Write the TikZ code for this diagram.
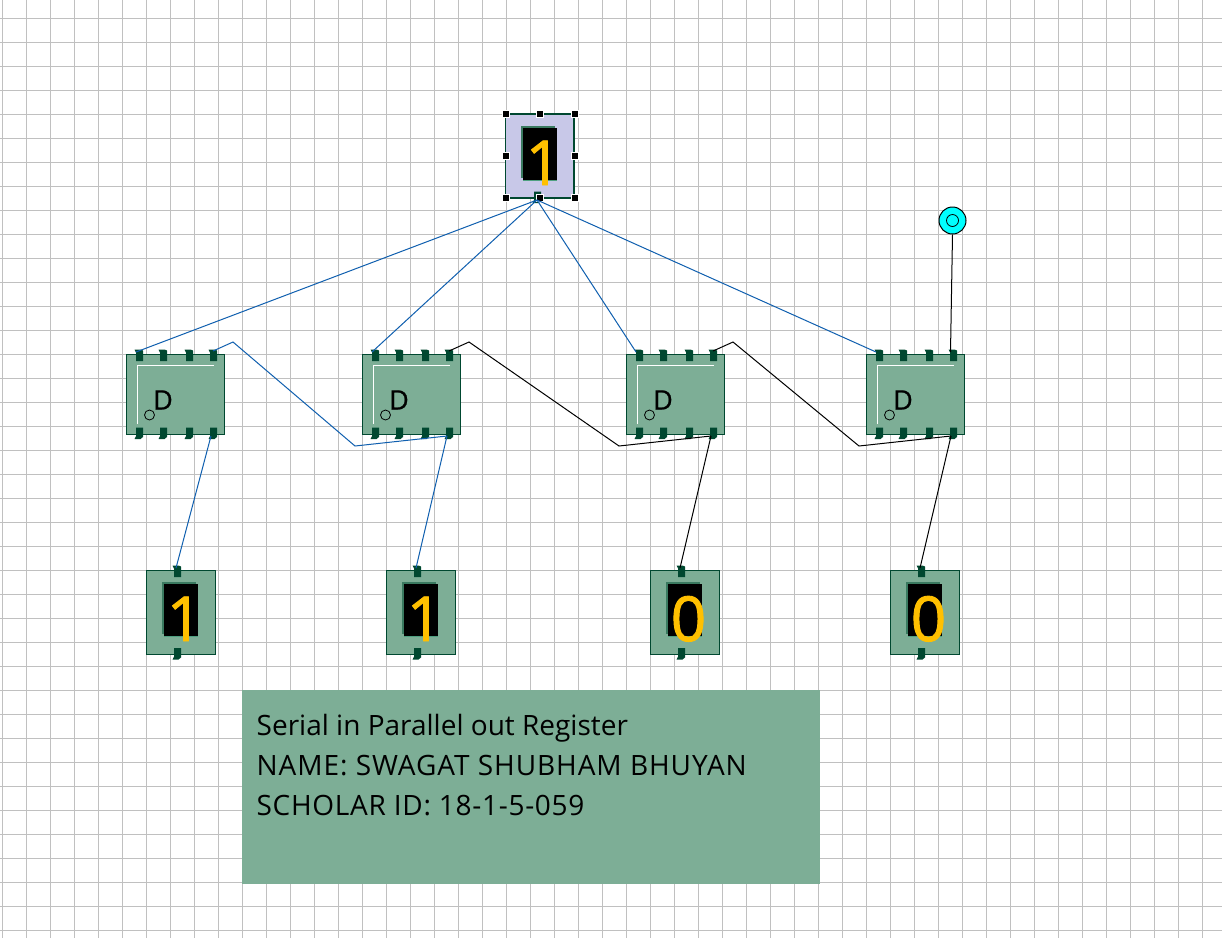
\documentclass[tikz,border=0pt]{standalone}
\usepackage{fontspec}
\setmainfont{Open Sans}
\newfontfamily\digfont[FakeBold=1.5]{Open Sans}
\newfontfamily\dfont[FakeBold=0.8]{Open Sans}
\newfontfamily\capsa[LetterSpace=3.4]{Open Sans}
\newfontfamily\capsb[LetterSpace=2.5]{Open Sans}
\definecolor{gridc}{HTML}{C0C0C0}
\definecolor{body}{HTML}{7DAE96}
\definecolor{pinc}{HTML}{004830}
\definecolor{sel}{HTML}{C8C8E8}
\definecolor{wireb}{HTML}{0F5FAF}
\definecolor{digit}{HTML}{FFC000}
\definecolor{shadA}{HTML}{3A7A60}
\definecolor{shadB}{HTML}{4FA080}
\definecolor{cyanc}{HTML}{00FFFF}
\tikzset{
  x=1pt,y=-1pt,
  chip/.style={draw=pinc,fill=body,line width=1pt,minimum width=97.5pt,minimum height=80pt,inner sep=0pt,outer sep=0pt},
  disp/.style={draw=pinc,fill=body,line width=1pt,minimum width=68.5pt,minimum height=84pt,inner sep=0pt,outer sep=0pt},
  lcdscreen/.style={fill=black,minimum width=34pt,minimum height=52pt,inner sep=0pt,outer sep=0pt},
  pinshape/.style={fill=pinc,draw=none},
  wblue/.style={draw=wireb,line width=1pt},
  wblack/.style={draw=black,line width=1pt},
  hl/.style={fill=black,draw=white,line width=1pt,minimum size=7pt,inner sep=0pt,outer sep=0pt},
  dig/.style={text=digit,font=\digfont\fontsize{62}{62}\selectfont,inner sep=0pt,anchor=base},
  dlabel/.style={font=\dfont\fontsize{27}{27}\selectfont,inner sep=0pt,text=black},
  notecirc/.style={draw=black,line width=.8pt,circle,minimum size=10pt,inner sep=0pt},
  notetext/.style={anchor=base west,inner sep=0pt}
}
\newcommand{\pintop}[2]{\fill[pinshape] (#1-3.5,#2+11.5) -- (#1+3.5,#2+11.5) -- (#1+3.5,#2+1) -- (#1+1,#2) -- (#1-5,#2) -- (#1-3.5,#2+3) -- cycle;}
\newcommand{\pinbot}[2]{\fill[pinshape] (#1-3.5,#2-11.5) -- (#1+3.5,#2-11.5) -- (#1+3.5,#2-2) -- (#1+1,#2) -- (#1-5,#2) -- (#1-3.5,#2-3) -- cycle;}
\newcommand{\dff}[2]{%
  \node[chip,anchor=north west] (#1) at (#2-0.5,354) {};
  \draw[white,line width=1pt] (#2+10.5,424) -- (#2+10.5,365.5) -- (#2+87,365.5);
  \node[notecirc] (#1c) at (#2+22.5,415) {};
  \node[dlabel] (#1d) at (#2+36,400) {D};
  \pintop{#2+12.5}{349.5}\pintop{#2+36.5}{349.5}\pintop{#2+62.5}{349.5}\pintop{#2+86.5}{349.5}
  \pinbot{#2+12.5}{439}\pinbot{#2+36.5}{439}\pinbot{#2+62.5}{439}\pinbot{#2+86.5}{439}
  \coordinate (#1a) at (#2+9,352);
  \coordinate (#1q) at (#2+86,351);
  \coordinate (#1k) at (#2+83.5,352);
  \coordinate (#1i) at (#2+84,436);
}
\newcommand{\lcd}[5]{%
  \node[disp,anchor=north west,#5] (#1) at (#2-0.5,#3) {};
  \fill[shadA] (#2+15,#3+12) rectangle (#2+49,#3+64);
  \fill[shadB] (#2+17,#3+15) rectangle (#2+51,#3+67);
  \node[lcdscreen,anchor=north west] (#1s) at (#2+17,#3+14) {};
  \node[dig] (#1t) at (#2+37.5,#3+71) {#4};
}
\begin{document}
\begin{tikzpicture}
\useasboundingbox (0,0) rectangle (1222,938);
\fill[white] (0,0) rectangle (1222,938);
\foreach \i in {0,...,50} \draw[gridc,line width=1pt] (2.5+24*\i,0) -- (2.5+24*\i,938);
\foreach \j in {0,...,38} \draw[gridc,line width=1pt] (0,18.5+24*\j) -- (1222,18.5+24*\j);

% note
\node[fill=body,anchor=north west,minimum width=578pt,minimum height=193.5pt,inner sep=0pt,outer sep=0pt] (note) at (242,690) {};
\node[notetext,font=\fontsize{28}{40}\selectfont] (l1) at (256.5,735.5) {Serial in Parallel out Register};
\node[notetext,font=\capsa\fontsize{28}{40}\selectfont] (l2) at (256.5,775.5) {NAME: SWAGAT SHUBHAM BHUYAN};
\node[notetext,font=\capsb\fontsize{28}{40}\selectfont] (l3) at (256.5,815.5) {SCHOLAR ID: 18-1-5-059};

% chips
\dff{ffa}{127}
\dff{ffb}{363}
\dff{ffc}{627}
\dff{ffd}{867}

% displays
\lcd{da}{147}{570}{1}{}
\lcd{db}{387}{570}{1}{}
\lcd{dc}{651}{570}{0}{}
\lcd{dd}{891}{570}{0}{}
\foreach \x in {176,416,680,920}{
  \pintop{\x+1.5}{565.5}
  \pinbot{\x+1.5}{659.5}
}
\coordinate (dap) at (176,568);
\coordinate (dbp) at (416,568);
\coordinate (dcp) at (680,568);
\coordinate (ddp) at (920,568);

% input
\lcd{top}{506}{114}{1}{fill=sel,line width=1.5pt}
\pinbot{537.5}{203}
\coordinate (tp) at (537,200);
\foreach \x/\y [count=\k] in {506/114,540/114,575/114,506/156,575/156,506/198,540/198,575/198}
  \node[hl] (h\k) at (\x,\y) {};

% clock
\node[circle,draw=black,fill=cyanc,line width=1pt,minimum size=27pt,inner sep=0pt] (clk) at (952.5,220.5) {};
\node[circle,draw=black,line width=.8pt,minimum size=12pt,inner sep=0pt] (clki) at (952.5,220.5) {};

% bends
\coordinate (b1a) at (233,342); \coordinate (b1b) at (355,446);
\coordinate (b2a) at (469,342); \coordinate (b2b) at (619,446);
\coordinate (b3a) at (733,342); \coordinate (b3b) at (859,446);

% wires
\draw[wblue] (tp) -- (ffaa);
\draw[wblue] (tp) -- (ffba);
\draw[wblue] (tp) -- (ffca);
\draw[wblue] (tp) -- (ffda);
\draw[wblue] (ffaq) -- (b1a) -- (b1b) -- (ffbi);
\draw[wblack] (ffbq) -- (b2a) -- (b2b) -- (ffci);
\draw[wblack] (ffcq) -- (b3a) -- (b3b) -- (ffdi);
\draw[wblue] (ffai) -- (dap);
\draw[wblue] (ffbi) -- (dbp);
\draw[wblack] (ffci) -- (dcp);
\draw[wblack] (ffdi) -- (ddp);
\draw[wblack] (clk.south) -- (ffdk);
\end{tikzpicture}
\end{document}
